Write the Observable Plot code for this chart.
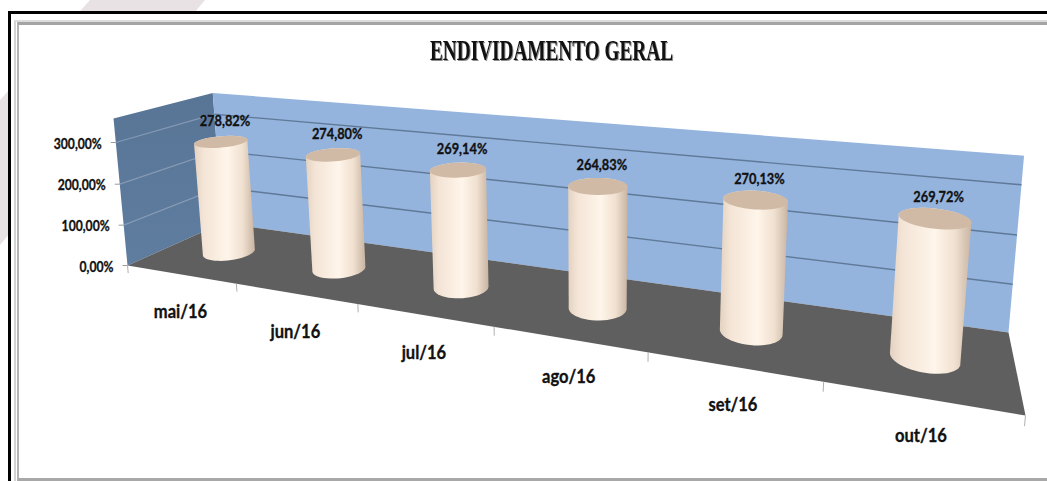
<!DOCTYPE html>
<html lang="pt">
<head>
<meta charset="utf-8">
<script src="https://cdn.jsdelivr.net/npm/d3@7"></script>
<script src="https://cdn.jsdelivr.net/npm/@observablehq/plot@0.6"></script>
<style>
  html, body { margin: 0; padding: 0; background: #fff; }
  #page { position: relative; width: 1047px; height: 481px; overflow: hidden; background: #fff; }
  #band { position: absolute; inset: 0; background: #e9e2e5; clip-path: polygon(90px 0, 205px 0, 0 245px, 0 100px); }
  #outer { position: absolute; left: 8px; top: 11px; right: 0; bottom: 0; background: #fff; border-left: 3px solid #000; border-top: 3px solid #000; }
  #inner { position: absolute; left: 14px; top: 20px; right: 0; bottom: 0; background: #fff; border-left: 2px solid #d4d4d4; border-top: 2px solid #dcdcdc; }
  #inner2 { position: absolute; left: 17px; top: 22px; right: 0; bottom: 0; background: #fff; border-left: 2px solid #b4b4b4; border-top: 3px solid #a4a4a4; border-bottom: 3px solid #a8a8a8; }
  #chart { position: absolute; left: 0; top: 0; }
  .title-mark text { filter: drop-shadow(1px 1px 0 #8f8f8f); }
</style>
</head>
<body>
<div id="page">
  <div id="band"></div>
  <div id="outer"></div>
  <div id="inner"></div>
  <div id="inner2"></div>
  <div id="chart"></div>
</div>
<script>
const titleText = "ENDIVIDAMENTO GERAL";
const categories = ["mai/16", "jun/16", "jul/16", "ago/16", "set/16", "out/16"];
const values = [278.82, 274.80, 269.14, 264.83, 270.13, 269.72];
const yTicks = [0, 100, 200, 300];

const fmtPct = (v) => v.toFixed(2).replace(".", ",") + "%";

// Camera: the chart's perspective, as a planar homography of the floor plus a vertical vanishing point.
const nCat = categories.length;
const wallTop = 357;
const [p0, p1, p2, p3] = [[127, 265], [1025, 415], [1008, 332], [222, 222.6]];
const vanish = [588, 5113];
const dx1 = p1[0] - p2[0], dx2 = p3[0] - p2[0], sx = p0[0] - p1[0] + p2[0] - p3[0];
const dy1 = p1[1] - p2[1], dy2 = p3[1] - p2[1], sy = p0[1] - p1[1] + p2[1] - p3[1];
const den = dx1 * dy2 - dx2 * dy1;
const g = (sx * dy2 - dx2 * sy) / den, h = (dx1 * sy - sx * dy1) / den;
const a = p1[0] - p0[0] + g * p1[0], b = p3[0] - p0[0] + h * p3[0];
const d = p1[1] - p0[1] + g * p1[1], e = p3[1] - p0[1] + h * p3[1];
const rise = (142 - 265) / (300 * (vanish[1] - 142));
const y0Px = 265, pxPerPct = (265 - 142) / 300;

// category position, depth (0 front, 1 back), value -> [x scale value, y scale value]
function project(pos, depth, value) {
  const u = pos / nCat, v = depth;
  const w = g * u + h * v + 1;
  const fx = (a * u + b * v + p0[0]) / w, fy = (d * u + e * v + p0[1]) / w;
  const t = value * rise;
  const px = (w * fx + t * vanish[0]) / (w + t);
  const py = (w * fy + t * vanish[1]) / (w + t);
  return {x: px, y: (y0Px - py) / pxPerPct};
}

const quad = (...corners) => corners.map(([p, z, v]) => project(p, z, v));
const leftWall = quad([0, 0, 0], [0, 1, 0], [0, 1, wallTop], [0, 0, wallTop]);
const backWall = quad([0, 1, 0], [nCat, 1, 0], [nCat, 1, wallTop], [0, 1, wallTop]);
const floor = quad([0, 0, 0], [nCat, 0, 0], [nCat, 1, 0], [0, 1, 0]);

const rx = 0.19, rz = 0.185, midDepth = 0.48, midPos = 0.52;
const angles = d3.range(48).map((k) => (k / 48) * 2 * Math.PI);
const ring = (i, value) => angles.map((t) =>
  project(i + midPos + rx * Math.cos(t), midDepth + rz * Math.sin(t), value));

const bodies = categories.flatMap((c, i) => {
  const pts = [...ring(i, 0), ...ring(i, values[i])];
  const hull = d3.polygonHull(pts.map((p) => [p.x, p.y]));
  return hull.map(([x, y]) => ({c, x, y}));
});
const tops = categories.flatMap((c, i) => ring(i, values[i]).map((p) => ({c, ...p})));

const leftGrid = yTicks.slice(1).map((t) => ({a: project(0, 0, t), b: project(0, 1, t)}));
const backGrid = yTicks.slice(1).map((t) => ({a: project(0, 1, t), b: project(nCat, 1, t)}));
const yAxisRows = yTicks.map((t) => ({t, ...project(0, 0, t)}));
const xTickRows = d3.range(nCat + 1).map((i) => ({a: project(i, 0, 0), b: project(i, 0, -19)}));
const catRows = categories.map((c, i) => ({c, ...project(i + 0.5, 0, 0)}));
const valueRows = values.map((v, i) => ({v, ...project(i + midPos, midDepth, v)}));

const labelFont = "Lato, 'Liberation Sans', sans-serif";
const heavy = {fontFamily: labelFont, fontWeight: "bold", fill: "#111", stroke: "#111", strokeWidth: 0.35};

const plot = Plot.plot({
  width: 1047,
  height: 481,
  marginTop: 0, marginRight: 0, marginBottom: 0, marginLeft: 0,
  x: {domain: [0, 1047], range: [0, 1047], axis: null},
  y: {domain: [0, 300], range: [y0Px, 142], axis: null},
  style: {background: "transparent", overflow: "visible"},
  marks: [
    () => {
      const s = d3.create("svg:defs");
      const lin = (id, stops) => {
        const gr = s.append("linearGradient").attr("id", id);
        stops.forEach(([o, col]) => gr.append("stop").attr("offset", o).attr("stop-color", col));
      };
      lin("cyl", [[0, "#e4d2c0"], [0.15, "#f3e4d6"], [0.55, "#fff5ea"], [0.8, "#f0e0d0"], [1, "#c8b4a2"]]);
      const w = s.append("linearGradient").attr("id", "wall").attr("x1", 0).attr("x2", 0).attr("y1", 0).attr("y2", 1);
      w.append("stop").attr("offset", 0).attr("stop-color", "#587596");
      w.append("stop").attr("offset", 1).attr("stop-color", "#5f7d9f");
      return s.node();
    },
    Plot.line(leftWall, {x: "x", y: "y", curve: "linear-closed", fill: "url(#wall)", stroke: "none"}),
    Plot.line(backWall, {x: "x", y: "y", curve: "linear-closed", fill: "#94b3dd", stroke: "none"}),
    Plot.link(leftGrid, {x1: (r) => r.a.x, y1: (r) => r.a.y, x2: (r) => r.b.x, y2: (r) => r.b.y, stroke: "#8499b4", strokeWidth: 1.3}),
    Plot.link(backGrid, {x1: (r) => r.a.x, y1: (r) => r.a.y, x2: (r) => r.b.x, y2: (r) => r.b.y, stroke: "#5f7997", strokeWidth: 1.4}),
    Plot.line(floor, {x: "x", y: "y", curve: "linear-closed", fill: "#5f5f5f", stroke: "none"}),
    Plot.link(yAxisRows, {x1: (r) => r.x - 5, x2: "x", y1: "y", y2: "y", stroke: "#9a9a9a"}),
    Plot.link(xTickRows, {x1: (r) => r.a.x, y1: (r) => r.a.y, x2: (r) => r.b.x, y2: (r) => r.b.y, stroke: "#b0b0b0"}),
    Plot.line(bodies, {x: "x", y: "y", z: "c", curve: "linear-closed", fill: "url(#cyl)", stroke: "none"}),
    Plot.line(tops, {x: "x", y: "y", z: "c", curve: "linear-closed", fill: "#d0baa5", stroke: "none"}),
    Plot.text(yAxisRows, {...heavy, x: "x", y: "y", text: (r) => fmtPct(r.t), textAnchor: "end", dx: -14, dy: 1, fontSize: 16, className: "squeeze-axis"}),
    Plot.text(catRows, {...heavy, x: "x", y: "y", text: "c", dy: 38, fontSize: 19, className: "squeeze-cat"}),
    Plot.text(valueRows, {...heavy, x: "x", y: "y", text: (r) => fmtPct(r.v), dx: 4, dy: -21, fontSize: 16, className: "squeeze-val"}),
    Plot.text([titleText], {frameAnchor: "top-left", dx: 551, dy: 38, text: (t) => t, fontFamily: "'Liberation Serif', serif", fontWeight: "bold", fontSize: 30, fill: "#111", className: "title-mark"})
  ]
});
d3.select(plot).select(".title-mark text").attr("textLength", 243).attr("lengthAdjust", "spacingAndGlyphs").attr("text-anchor", "middle");
document.getElementById("chart").appendChild(plot);
// Condense the labels: the reference uses a narrow face that is not installed.
const squeeze = (sel, factor) => d3.select(plot).selectAll(sel).each(function () {
  const n = this.getComputedTextLength();
  d3.select(this).attr("textLength", n * factor).attr("lengthAdjust", "spacingAndGlyphs");
});
squeeze(".squeeze-axis text", 0.76);
squeeze(".squeeze-val text", 0.8);
squeeze(".squeeze-cat text", 0.87);
</script>
</body>
</html>
